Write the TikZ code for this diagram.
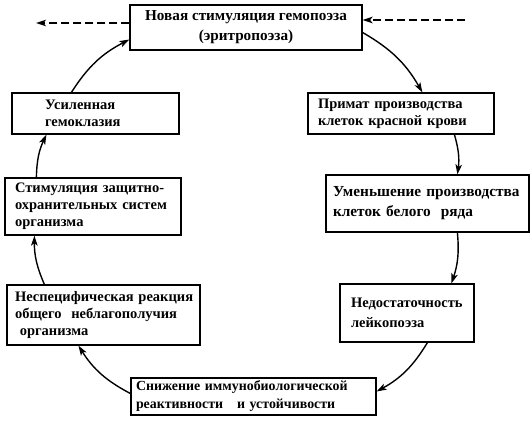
\documentclass[tikz,border=0pt]{standalone}
\usepackage{fontspec}
\setmainfont{Liberation Serif}[UprightFont=* Bold]
\usetikzlibrary{arrows.meta}
\begin{document}
\begin{tikzpicture}[x=1pt,y=-1pt,
  box/.style={draw, line width=1.2pt, align=left, font=\fontsize{14.5}{17}\selectfont, inner ysep=2pt},
  two/.style={font=\fontsize{14.5}{20}\selectfont},
  cyc/.style={line width=1.4pt, -{Stealth[length=10pt,width=6.5pt,inset=2.5pt]}},
  dsh/.style={line width=1.4pt, dash pattern=on 8pt off 4pt, -{Stealth[length=10pt,width=6.5pt,inset=2.5pt]}}]
\useasboundingbox (0,0) rectangle (532,427);
\node[box, font=\fontsize{15.2}{20}\selectfont, minimum width=232pt, minimum height=45pt, align=center] (top) at (246,27.5) {Новая~стимуляция~гемопоэза\\(эритропоэза)};
\node[box, inner xsep=33pt, text width=101pt, minimum height=41pt] (usil) at (95.5,113.5) {Усиленная\\гемоклазия};
\node[box, inner xsep=10pt, text width=166pt, minimum height=41pt] (primat) at (401,113.5) {Примат~производства\\клеток~красной~крови};
\node[box, inner xsep=10pt, text width=156pt, minimum height=57pt] (stim) at (93,206.5) {Стимуляция~защитно-\\охранительных~систем\\организма};
\node[box, font=\fontsize{15.3}{20}\selectfont, inner xsep=7pt, text width=189pt, minimum height=57pt] (umen) at (427.5,203.5) {Уменьшение~производства\\клеток~белого~~ряда};
\node[box, inner xsep=8pt, text width=177pt, minimum height=60pt] (nesp) at (103.5,315) {Неспецифическая~реакция\\общего~~неблагополучия\\\ организма};
\node[box, two, inner xsep=11pt, text width=112pt, minimum height=58pt] (nedost) at (407,313) {Недостаточность\\лейкопоэза};
\node[box, font=\fontsize{13.9}{18}\selectfont, inner xsep=5pt, text width=235pt, minimum height=37pt] (snizh) at (253.5,396.5) {Снижение~иммунобиологической\\реактивности~~~и~устойчивости};
\coordinate (lend) at (36,23);
\coordinate (rend) at (465,20);
\draw[cyc] ([xshift=60pt]usil.north west) to[bend left=15] ([yshift=-12pt]top.west);
\draw[cyc] ([yshift=-5pt]top.east) to[bend left=15] ([xshift=115pt]primat.north west);
\draw[cyc] ([xshift=147pt]primat.south west) to[bend left=12] ([xshift=132pt]umen.north west);
\draw[cyc] ([xshift=132pt]umen.south west) to[bend left=12] ([xshift=112pt]nedost.north west);
\draw[cyc] ([xshift=88pt]nedost.south west) to[bend left=15] ([yshift=5pt]snizh.east);
\draw[cyc] ([yshift=3pt]snizh.west) to[bend left=15] ([xshift=72pt]nesp.south west);
\draw[cyc] ([xshift=38pt]nesp.north west) to[bend left=12] ([xshift=30pt]stim.south west);
\draw[cyc] ([xshift=32pt]stim.north west) to[bend left=12] ([xshift=35pt]usil.south west);
\draw[dsh] (top.west |- lend) -- (lend);
\draw[dsh] (rend) -- (top.east |- rend);
\end{tikzpicture}
\end{document}
